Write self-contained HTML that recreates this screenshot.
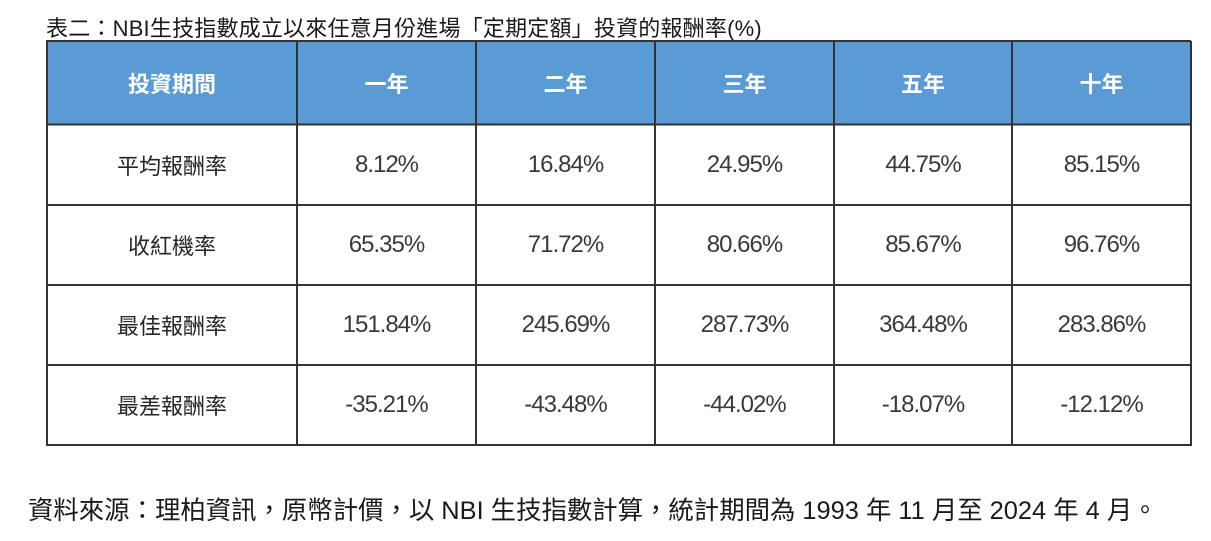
<!DOCTYPE html>
<html>
<head>
<meta charset="utf-8">
<style>
html,body{margin:0;padding:0;background:#fff;}
body{width:1211px;height:541px;position:relative;overflow:hidden;font-family:"Liberation Sans","Noto Sans CJK TC",sans-serif;color:#262626;}
.t{position:absolute;display:flex;align-items:center;justify-content:center;white-space:nowrap;}
.hd{color:#fff;font-weight:bold;font-size:22px;}
.lb{font-size:22px;color:#262626;}
.num{font-size:24px;letter-spacing:-1px;color:#3a3a3a;}
#title{position:absolute;left:46px;top:14px;font-size:22px;letter-spacing:0.2px;line-height:30px;white-space:nowrap;color:#1a1a1a;}
#src{position:absolute;left:28px;top:494px;font-size:25.4px;line-height:34px;white-space:nowrap;color:#1a1a1a;}
svg{position:absolute;left:0;top:0;}
</style>
</head>
<body>
<div id="title">表二：NBI生技指數成立以來任意月份進場「定期定額」投資的報酬率(%)</div>
<svg width="1211" height="541">
<rect x="46" y="41" width="1145" height="83" fill="#5B9BD5"/>
<g stroke="#333" stroke-width="2" fill="none">
<line x1="46" y1="41" x2="1191" y2="41"/>
<line x1="46" y1="124.5" x2="1191" y2="124.5"/>
<line x1="46" y1="205" x2="1191" y2="205"/>
<line x1="46" y1="285" x2="1191" y2="285"/>
<line x1="46" y1="365" x2="1191" y2="365"/>
<line x1="46" y1="445" x2="1191" y2="445"/>
<line x1="47" y1="41" x2="47" y2="446"/>
<line x1="297" y1="41" x2="297" y2="446"/>
<line x1="476" y1="41" x2="476" y2="446"/>
<line x1="655" y1="41" x2="655" y2="446"/>
<line x1="834" y1="41" x2="834" y2="446"/>
<line x1="1012" y1="41" x2="1012" y2="446"/>
<line x1="1191" y1="41" x2="1191" y2="446"/>
</g>
</svg>

<!-- header -->
<div class="t hd" style="left:47px;top:42px;width:250px;height:82px;">投資期間</div>
<div class="t hd" style="left:297px;top:42px;width:179px;height:82px;">一年</div>
<div class="t hd" style="left:476px;top:42px;width:179px;height:82px;">二年</div>
<div class="t hd" style="left:655px;top:42px;width:179px;height:82px;">三年</div>
<div class="t hd" style="left:834px;top:42px;width:178px;height:82px;">五年</div>
<div class="t hd" style="left:1012px;top:42px;width:179px;height:82px;">十年</div>

<!-- row 1 -->
<div class="t lb" style="left:47px;top:125px;width:250px;height:80px;">平均報酬率</div>
<div class="t num" style="left:297px;top:125px;width:179px;height:80px;">8.12%</div>
<div class="t num" style="left:476px;top:125px;width:179px;height:80px;">16.84%</div>
<div class="t num" style="left:655px;top:125px;width:179px;height:80px;">24.95%</div>
<div class="t num" style="left:834px;top:125px;width:178px;height:80px;">44.75%</div>
<div class="t num" style="left:1012px;top:125px;width:179px;height:80px;">85.15%</div>

<!-- row 2 -->
<div class="t lb" style="left:47px;top:205px;width:250px;height:80px;">收紅機率</div>
<div class="t num" style="left:297px;top:205px;width:179px;height:80px;">65.35%</div>
<div class="t num" style="left:476px;top:205px;width:179px;height:80px;">71.72%</div>
<div class="t num" style="left:655px;top:205px;width:179px;height:80px;">80.66%</div>
<div class="t num" style="left:834px;top:205px;width:178px;height:80px;">85.67%</div>
<div class="t num" style="left:1012px;top:205px;width:179px;height:80px;">96.76%</div>

<!-- row 3 -->
<div class="t lb" style="left:47px;top:285px;width:250px;height:80px;">最佳報酬率</div>
<div class="t num" style="left:297px;top:285px;width:179px;height:80px;">151.84%</div>
<div class="t num" style="left:476px;top:285px;width:179px;height:80px;">245.69%</div>
<div class="t num" style="left:655px;top:285px;width:179px;height:80px;">287.73%</div>
<div class="t num" style="left:834px;top:285px;width:178px;height:80px;">364.48%</div>
<div class="t num" style="left:1012px;top:285px;width:179px;height:80px;">283.86%</div>

<!-- row 4 -->
<div class="t lb" style="left:47px;top:365px;width:250px;height:80px;">最差報酬率</div>
<div class="t num" style="left:297px;top:365px;width:179px;height:80px;">-35.21%</div>
<div class="t num" style="left:476px;top:365px;width:179px;height:80px;">-43.48%</div>
<div class="t num" style="left:655px;top:365px;width:179px;height:80px;">-44.02%</div>
<div class="t num" style="left:834px;top:365px;width:178px;height:80px;">-18.07%</div>
<div class="t num" style="left:1012px;top:365px;width:179px;height:80px;">-12.12%</div>

<div id="src">資料來源：理柏資訊，原幣計價，以 NBI 生技指數計算，統計期間為 1993 年 11 月至 2024 年 4 月。</div>
</body>
</html>
